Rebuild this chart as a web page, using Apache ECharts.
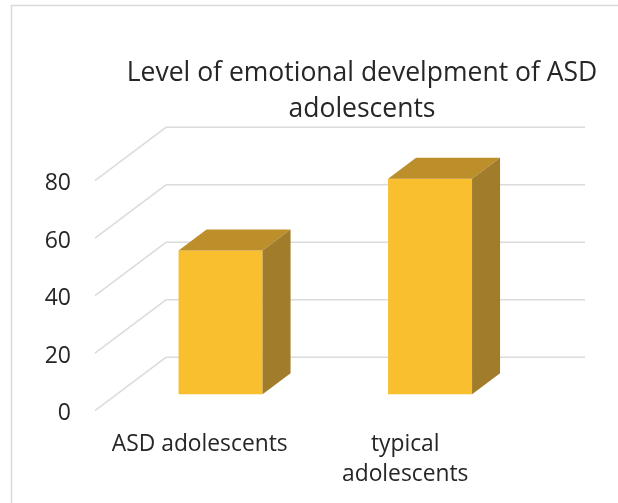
<!DOCTYPE html>
<html>
<head>
<meta charset="utf-8">
<style>html,body{margin:0;padding:0;background:#fff}#c{width:618px;height:503px}</style>
<script src="https://cdn.jsdelivr.net/npm/echarts@6/dist/echarts.min.js"></script>
</head>
<body>
<div id="c"></div>
<script>
const categories = ['ASD adolescents', 'typical\nadolescents'];
const values = [50, 75];
const yTicks = [0, 20, 40, 60, 80];
const titleText = 'Level of emotional develpment of ASD\nadolescents';

const depthX = 71, depthY = 53.4, wallRight = 585;
const barDX = 20.8, barDY = 16.4, barW = 84, barDepthX = 28, barDepthY = 21;
const FONT = '"Open Sans"';

const chart = echarts.init(document.getElementById('c'), null, {renderer: 'canvas'});
chart.setOption({
  animation: false,
  backgroundColor: '#fff',
  title: {
    text: titleText, left: 357, top: 50, textAlign: 'center',
    textStyle: {fontFamily: FONT, fontSize: 26.5, fontWeight: 'normal', color: '#262626', lineHeight: 36}
  },
  grid: {left: 95, top: 180.7, width: 419, height: 230},
  xAxis: {
    type: 'category', data: categories,
    axisLine: {show: false}, axisTick: {show: false}, splitLine: {show: false},
    axisLabel: {
      fontFamily: FONT, fontSize: 22.8, color: '#262626', margin: 19, lineHeight: 30, interval: 0,
      formatter(v, i) {
        return i === 1 ? v.split('\n').map(s => '{t|' + s + '}').join('\n') : v;
      },
      rich: {t: {fontFamily: FONT, fontSize: 22.8, color: '#262626', lineHeight: 30, padding: [0, 8, 0, 0]}}
    }
  },
  yAxis: {
    type: 'value', min: 0, max: 80, interval: 20,
    axisLine: {show: false}, axisTick: {show: false}, splitLine: {show: false},
    axisLabel: {fontFamily: FONT, fontSize: 23, color: '#262626', margin: 24, lineHeight: 6, verticalAlign: 'top'}
  },
  graphic: [
    {type: 'polyline', silent: true, shape: {points: [[11.5, 503], [11.5, 5.5], [618, 5.5]]},
     style: {stroke: '#d9d9d9', lineWidth: 1.5, fill: null}}
  ],
  series: [
    {
      type: 'custom', z: 1, clip: false, silent: true,
      data: yTicks.map(v => [0, v]),
      encode: {x: 0, y: 1},
      renderItem(params, api) {
        const y = api.coord([0, api.value(1)])[1];
        const x = params.coordSys.x;
        return {
          type: 'polyline',
          shape: {points: [[x, y], [x + depthX, y - depthY], [wallRight, y - depthY]]},
          style: {stroke: '#dcdcdc', lineWidth: 1.5, fill: null}
        };
      }
    },
    {
      type: 'custom', z: 2, clip: false, silent: true,
      data: values.map((v, i) => [i, v]),
      encode: {x: 0, y: 1},
      renderItem(params, api) {
        const top = api.coord([api.value(0), api.value(1)]);
        const base = api.coord([api.value(0), 0]);
        const xl = top[0] + barDX - barW / 2, xr = xl + barW;
        const yt = top[1] - barDY, yb = base[1] - barDY;
        return {
          type: 'group',
          children: [
            {type: 'rect', shape: {x: xl, y: yt, width: barW, height: yb - yt},
             style: {fill: '#F9BF2F'}},
            {type: 'polygon',
             shape: {points: [[xl, yt], [xl + barDepthX, yt - barDepthY], [xr + barDepthX, yt - barDepthY], [xr, yt]]},
             style: {fill: '#BD8F2B'}},
            {type: 'polygon',
             shape: {points: [[xr, yt], [xr + barDepthX, yt - barDepthY], [xr + barDepthX, yb - barDepthY], [xr, yb]]},
             style: {fill: '#A07C2B'}}
          ]
        };
      }
    }
  ]
});
</script>
</body>
</html>
